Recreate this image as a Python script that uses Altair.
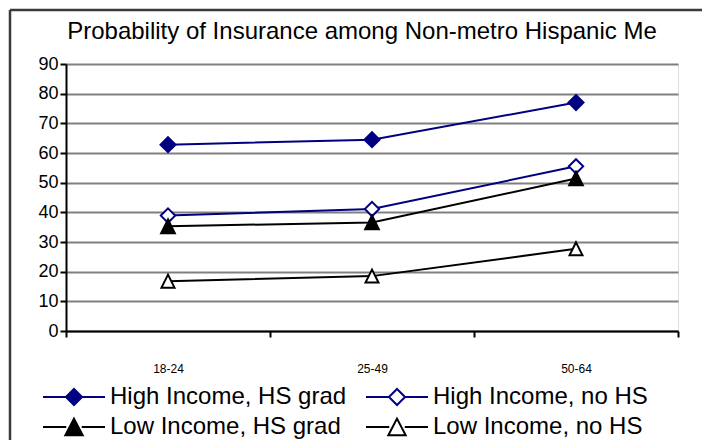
import altair as alt
import pandas as pd

ages = ["18-24", "25-49", "50-64"]
series = ["High Income, HS grad", "High Income, no HS", "Low Income, HS grad", "Low Income, no HS"]
high_hs = [62.8, 64.5, 77.0]
high_nohs = [38.9, 41.1, 55.5]
low_hs = [35.3, 36.6, 51.4]
low_nohs = [16.8, 18.5, 27.7]
title_text = "Probability of Insurance among Non-metro Hispanic Me"

line_colors = ["#000080", "#000080", "#000000", "#000000"]
fill_colors = ["#000080", "#ffffff", "#000000", "#ffffff"]
DIAMOND = "M0,-1L1,0L0,1L-1,0Z"
TRI = "M0,-1L1,1L-1,1Z"
marker_paths = [DIAMOND, DIAMOND, TRI, TRI]
marker_sizes = [225, 169, 256, 196]
LD = "M-1,0L-0.26,0M0.26,0L1,0M-0.26,0L0,-0.26L0.26,0L0,0.26Z"
LT = "M-1,0L-0.25,0M0.25,0L1,0M0,-0.27L0.28,0.27L-0.28,0.27Z"
legend_paths = [LD, LD, LT, LT]

rows = []
for s, vals in zip(series, [high_hs, high_nohs, low_hs, low_nohs]):
    for a, v in zip(ages, vals):
        rows.append({"age": a, "series": s, "value": v})
df = pd.DataFrame(rows)

FONT = "Liberation Sans"

x = alt.X("age:N", scale=alt.Scale(type="band", domain=ages, paddingInner=0, paddingOuter=0),
          axis=alt.Axis(title=None, labelAngle=0, labelFontSize=12, labelFont=FONT, labelColor="black",
                        domainColor="black", domainWidth=2, tickColor="black", tickWidth=2, tickSize=6,
                        tickBand="extent", labelPadding=26, grid=False))
y = alt.Y("value:Q", scale=alt.Scale(domain=[0, 90], nice=False, zero=True),
          axis=alt.Axis(title=None, values=list(range(0, 91, 10)), labelFontSize=18, labelFont=FONT,
                        labelColor="black", gridColor="#808080", gridWidth=2, domainColor="black",
                        domainWidth=2, tickColor="black", tickWidth=2, tickSize=6, labelPadding=2))

base = alt.Chart(df)

lines = base.mark_line(strokeWidth=2).encode(
    x=x, y=y,
    stroke=alt.Stroke("series:N", scale=alt.Scale(domain=series, range=line_colors), legend=None),
)

points = base.mark_point(opacity=1, strokeWidth=2).encode(
    x=x, y=y,
    shape=alt.Shape("series:N", scale=alt.Scale(domain=series, range=marker_paths), legend=None),
    fill=alt.Fill("series:N", scale=alt.Scale(domain=series, range=fill_colors), legend=None),
    stroke=alt.Stroke("series:N", scale=alt.Scale(domain=series, range=line_colors), legend=None),
    size=alt.Size("series:N", scale=alt.Scale(domain=series, range=marker_sizes), legend=None),
)

leg = alt.Legend(title=None, orient="none", legendX=-24, legendY=318, columns=2, direction="horizontal",
                 labelFontSize=24, labelFont=FONT, labelColor="black", symbolStrokeWidth=2,
                 symbolSize=3844, clipHeight=30, rowPadding=0, columnPadding=18, labelOffset=4,
                 symbolOpacity=1, padding=0, labelLimit=400)

legend_layer = base.transform_filter("false").mark_point(opacity=1, strokeWidth=2, size=3844).encode(
    x=x, y=y,
    shape=alt.Shape("series:N", scale=alt.Scale(domain=series, range=legend_paths), legend=leg),
    fill=alt.Fill("series:N", scale=alt.Scale(domain=series, range=fill_colors), legend=leg),
    stroke=alt.Stroke("series:N", scale=alt.Scale(domain=series, range=line_colors), legend=leg),
)

frame_df = pd.DataFrame({"k": [0]})
top_border = alt.Chart(frame_df).mark_rule(color="#3a3a3a", strokeWidth=2.5).encode(
    x=alt.value(-56), x2=alt.value(640), y=alt.value(-54))
left_border = alt.Chart(frame_df).mark_rule(color="#3a3a3a", strokeWidth=2.5).encode(
    x=alt.value(-56), y=alt.value(-54), y2=alt.value(380))
title_mark = alt.Chart(frame_df).mark_text(fontSize=24, font=FONT, color="black", align="center",
                                           baseline="alphabetic").encode(
    x=alt.value(296), y=alt.value(-25), text=alt.value(title_text))

chart = alt.layer(lines, points, legend_layer, top_border, left_border, title_mark).resolve_scale(
    shape="independent", fill="independent", stroke="independent", size="independent"
).properties(
    width=612, height=267,
    autosize=alt.AutoSizeParams(type="none"),
    padding={"left": 58, "top": 56, "right": 24, "bottom": 109},
).configure_view(stroke=None).configure(font=FONT)

chart.save("out.html", embed_options={"renderer": "svg", "actions": False})
